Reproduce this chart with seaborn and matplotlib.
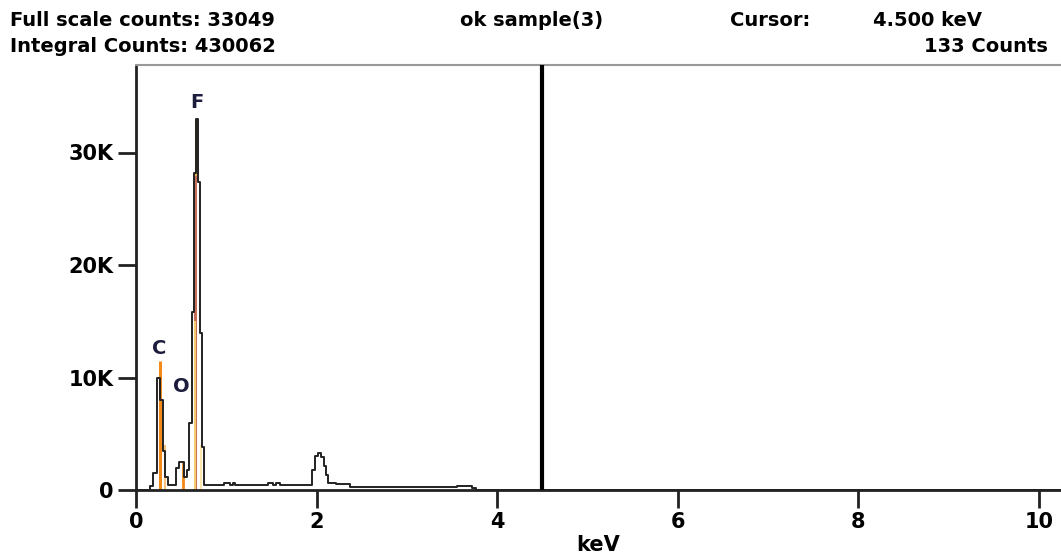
import numpy as np
import pandas as pd
import matplotlib
matplotlib.use("Agg")
import matplotlib.pyplot as plt
import seaborn as sns

# Spectrum (step data: counts hold from energy[i] to energy[i+1])
energy_kev = [0.00, 0.15, 0.19, 0.235, 0.27, 0.30, 0.325, 0.35, 0.44, 0.48, 0.53, 0.56,
              0.59, 0.62, 0.645, 0.665, 0.685, 0.71, 0.735, 0.755,
              0.98, 1.04, 1.07, 1.10, 1.46, 1.52, 1.55, 1.59,
              1.945, 1.98, 2.015, 2.05, 2.08, 2.10, 2.125, 2.22, 2.37,
              3.55, 3.72, 3.76, 10.3]
counts = [0, 350, 1500, 10000, 8000, 3500, 1200, 450, 2000, 2500, 1200, 1800,
          6000, 15800, 28200, 33000, 27400, 14000, 3850, 450,
          600, 450, 600, 450, 600, 450, 600, 450,
          1800, 3000, 3300, 2900, 2100, 1300, 600, 500, 300,
          400, 150, 0, 0]

# Element marker lines
elements = ["C", "O", "F"]
element_kev = [0.277, 0.525, 0.677]
element_height = [11500, 2500, 33000]
label_y = [12600, 9200, 34400]
label_x = [0.255, 0.50, 0.67]

cursor_kev = 4.5
x_ticks = [0, 2, 4, 6, 8, 10]
y_ticks = [0, 10000, 20000, 30000]
y_tick_labels = ["0", "10K", "20K", "30K"]

header_left = ["Full scale counts: 33049", "Integral Counts: 430062"]
title = "ok sample(3)"
cursor_label = "Cursor:"
cursor_val = "4.500 keV"
cursor_counts = "133 Counts"

sns.set_theme(style="white")
plt.rcParams['font.family'] = ['DejaVu Sans']
plt.rcParams['text.color'] = 'black'

W, H = 1061, 557
fig = plt.figure(figsize=(W / 100, H / 100), dpi=100)
left, right, top, bottom = 136, 1061, 65, 490
ax = fig.add_axes([left / W, 1 - bottom / H, (right - left) / W, (bottom - top) / H])

df = pd.DataFrame({"keV": energy_kev, "Counts": counts})

# colored element lines under the spectrum
ax.vlines([0.262], 0, 11500, color="#f28a1a", lw=2.2, zorder=2)
ax.vlines([0.322], 0, 4000, color="#f7c27a", lw=1.5, zorder=2)
ax.vlines([element_kev[1]], 0, element_height[1], color="#f28a1a", lw=2.0, zorder=2)
ax.vlines([0.655], 0, 28000, color="#c8705a", lw=2.2, zorder=2)
ax.vlines([0.665], 28000, element_height[2], color="#e0b030", lw=2.2, zorder=2)
ax.vlines([0.655], 0, 15000, color="#f5d070", lw=1.4, zorder=2)
ax.vlines([0.715], 0, 4000, color="#f8e6a8", lw=1.4, zorder=2)

sns.lineplot(data=df, x="keV", y="Counts", drawstyle="steps-post", color="#222222",
             lw=1.4, ax=ax, zorder=3)

ax.axvline(cursor_kev, color="black", lw=3, zorder=4)

for el, lx, ly in zip(elements, label_x, label_y):
    ax.text(lx, ly, el, ha="center", va="center", fontsize=14, fontweight="bold",
            color="#1c1c3c", zorder=5)

ax.set_xlim(0, (right - left) / 90.3)
ax.set_ylim(0, (bottom - top) / 11.25 * 1000)
ax.set_xticks(x_ticks)
ax.set_xticklabels([str(v) for v in x_ticks])
ax.set_yticks(y_ticks)
ax.set_yticklabels(y_tick_labels)
ax.tick_params(axis="both", direction="out", length=13, width=2, color="#222222",
               labelsize=15, pad=3, bottom=True, left=True)
for lab in ax.get_xticklabels() + ax.get_yticklabels():
    lab.set_fontweight("bold")
    lab.set_color("black")
ax.set_xlabel("keV", fontsize=15, fontweight="bold", color="black", labelpad=2)
ax.set_ylabel("")

for side in ["left", "bottom"]:
    ax.spines[side].set_color("#222222")
    ax.spines[side].set_linewidth(2)
ax.spines["top"].set_color("#999999")
ax.spines["top"].set_linewidth(1.5)
ax.spines["right"].set_visible(False)

fs = 14
kw = dict(fontsize=fs, fontweight="bold", va="center", color="black")
fig.text(10 / W, 1 - 20 / H, header_left[0], ha="left", **kw)
fig.text(10 / W, 1 - 47 / H, header_left[1], ha="left", **kw)
fig.text(532 / W, 1 - 20 / H, title, ha="center", **kw)
fig.text(730 / W, 1 - 20 / H, cursor_label, ha="left", **kw)
fig.text(873 / W, 1 - 20 / H, cursor_val, ha="left", **kw)
fig.text(1048 / W, 1 - 47 / H, cursor_counts, ha="right", **kw)

fig.savefig("out.png", dpi=100)
